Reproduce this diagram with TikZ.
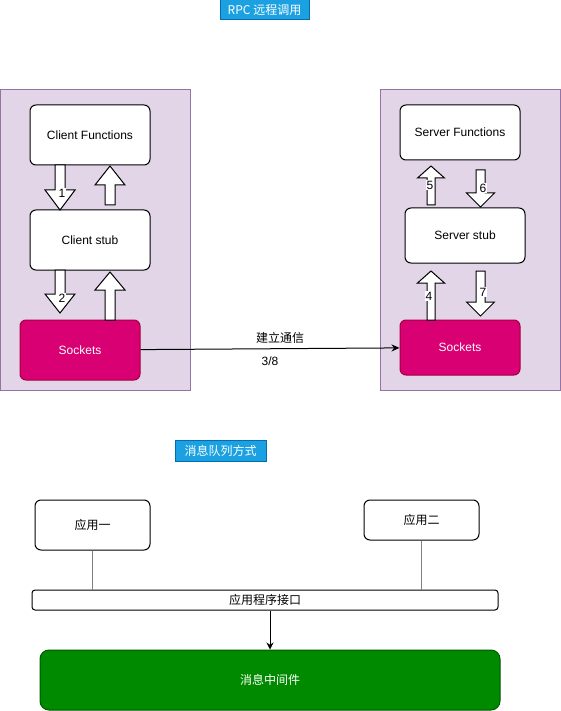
\documentclass[tikz,border=0pt]{standalone}
\usepackage{fontspec}
\setmainfont{Liberation Sans}
\newfontfamily\cjk{Noto Sans CJK SC}
\usetikzlibrary{arrows.meta}
\definecolor{boxpurple}{HTML}{E1D5E7}
\definecolor{linepurple}{HTML}{9673A6}
\definecolor{titleblue}{HTML}{1BA1E2}
\definecolor{titleline}{HTML}{006EAF}
\definecolor{sockfill}{HTML}{D80073}
\definecolor{sockline}{HTML}{A50040}
\definecolor{mwfill}{HTML}{008A00}
\definecolor{mwline}{HTML}{005700}
% block arrow: x, start y, head base y, tip y, shaft half width, head half width
\newcommand\BlockArrow[6]{%
    \draw[fill=white] ({#1-#5},#2) -- ({#1-#5},#3) -- ({#1-#6},#3) -- (#1,#4)
        -- ({#1+#6},#3) -- ({#1+#5},#3) -- ({#1+#5},#2) -- cycle;
}
\tikzset{
    every path/.style={line width=1pt},
    box/.style={draw=black, fill=white, rounded corners=6pt, inner sep=0pt, font=\fontsize{12}{14}\selectfont},
    sock/.style={box, draw=sockline, fill=sockfill, text=white},
    title/.style={draw=titleline, fill=titleblue, text=white, inner sep=0pt, font=\fontsize{12}{14}\selectfont\cjk},
    numlabel/.style={fill=white, inner sep=0.5pt, font=\fontsize{12}{14}\selectfont},
}
\begin{document}
\begin{tikzpicture}[x=1pt, y=-1pt]
    \useasboundingbox (0,0) rectangle (561,711);
    % RPC
    \node[title, minimum width=89, minimum height=20] (rpc) at (264.5,10) {RPC 远程调用};
    \draw[draw=linepurple, fill=boxpurple] (0.5,90) rectangle (190,390);
    \draw[draw=linepurple, fill=boxpurple] (380,90) rectangle (560,390);
    \node[box, minimum width=120, minimum height=60] (cfun) at (90,135) {Client Functions};
    \node[box, minimum width=120, minimum height=60] (cstub) at (90,240) {Client stub};
    \node[sock, minimum width=120, minimum height=60] (sockL) at (80,350) {Sockets};
    \node[box, minimum width=120, minimum height=55] (sfun) at (460,132.5) {Server Functions};
    \node[box, minimum width=120, minimum height=55] (sstub) at (465,235.5) {Server stub};
    \node[sock, minimum width=120, minimum height=55] (sockR) at (460,347.5) {Sockets};
    % client side
    \BlockArrow{60}{165}{190}{210}{5}{15}
    \node[numlabel] (n1) at (62,193) {1};
    \BlockArrow{110}{205}{185}{166}{5}{15}
    \BlockArrow{60}{270}{294}{313}{5}{15}
    \node[numlabel] (n2) at (62,298) {2};
    \BlockArrow{110}{320}{290}{272}{5}{15}
    % server side
    \BlockArrow{431}{205}{178}{166}{4}{13.5}
    \node[numlabel] (n5) at (430,185) {5};
    \BlockArrow{480.5}{170}{193}{207}{4.5}{14}
    \node[numlabel] (n6) at (483,188) {6};
    \BlockArrow{431}{320}{283}{271}{4}{13.5}
    \node[numlabel] (n4) at (429,296) {4};
    \BlockArrow{480.5}{271}{302}{316}{4.5}{14}
    \node[numlabel] (n7) at (483,292) {7};
    \draw[-{Stealth[length=8pt,width=7pt]}] (sockL) -- (sockR)
        node[midway, above=1pt, xshift=10pt, font=\fontsize{12}{14}\selectfont\cjk] (conn) {建立通信}
        node[midway, below=4pt, font=\fontsize{12}{14}\selectfont] (seq) {3/8};
    % message queue
    \node[title, minimum width=91, minimum height=21] (mq) at (220.5,450.5) {消息队列方式};
    \node[box, font=\fontsize{12}{14}\selectfont\cjk, minimum width=115, minimum height=50] (app1) at (92.5,525) {应用一};
    \node[box, font=\fontsize{12}{14}\selectfont\cjk, minimum width=115, minimum height=40] (app2) at (421.5,520) {应用二};
    \node[box, rounded corners=3pt, font=\fontsize{12}{14}\selectfont\cjk, minimum width=466, minimum height=20] (api) at (265,600) {应用程序接口};
    \node[box, draw=mwline, fill=mwfill, text=white, rounded corners=9pt, font=\fontsize{12}{14}\selectfont\cjk, minimum width=460, minimum height=60] (mw) at (270,680) {消息中间件};
    \draw[gray, line width=1.5pt] (app1.south) -- (app1.south |- api.north);
    \draw[gray, line width=1.5pt] (app2.south) -- (app2.south |- api.north);
    \draw[-{Stealth[length=7pt,width=7pt]}] (api.south -| mw.north) -- (mw.north);
\end{tikzpicture}
\end{document}
